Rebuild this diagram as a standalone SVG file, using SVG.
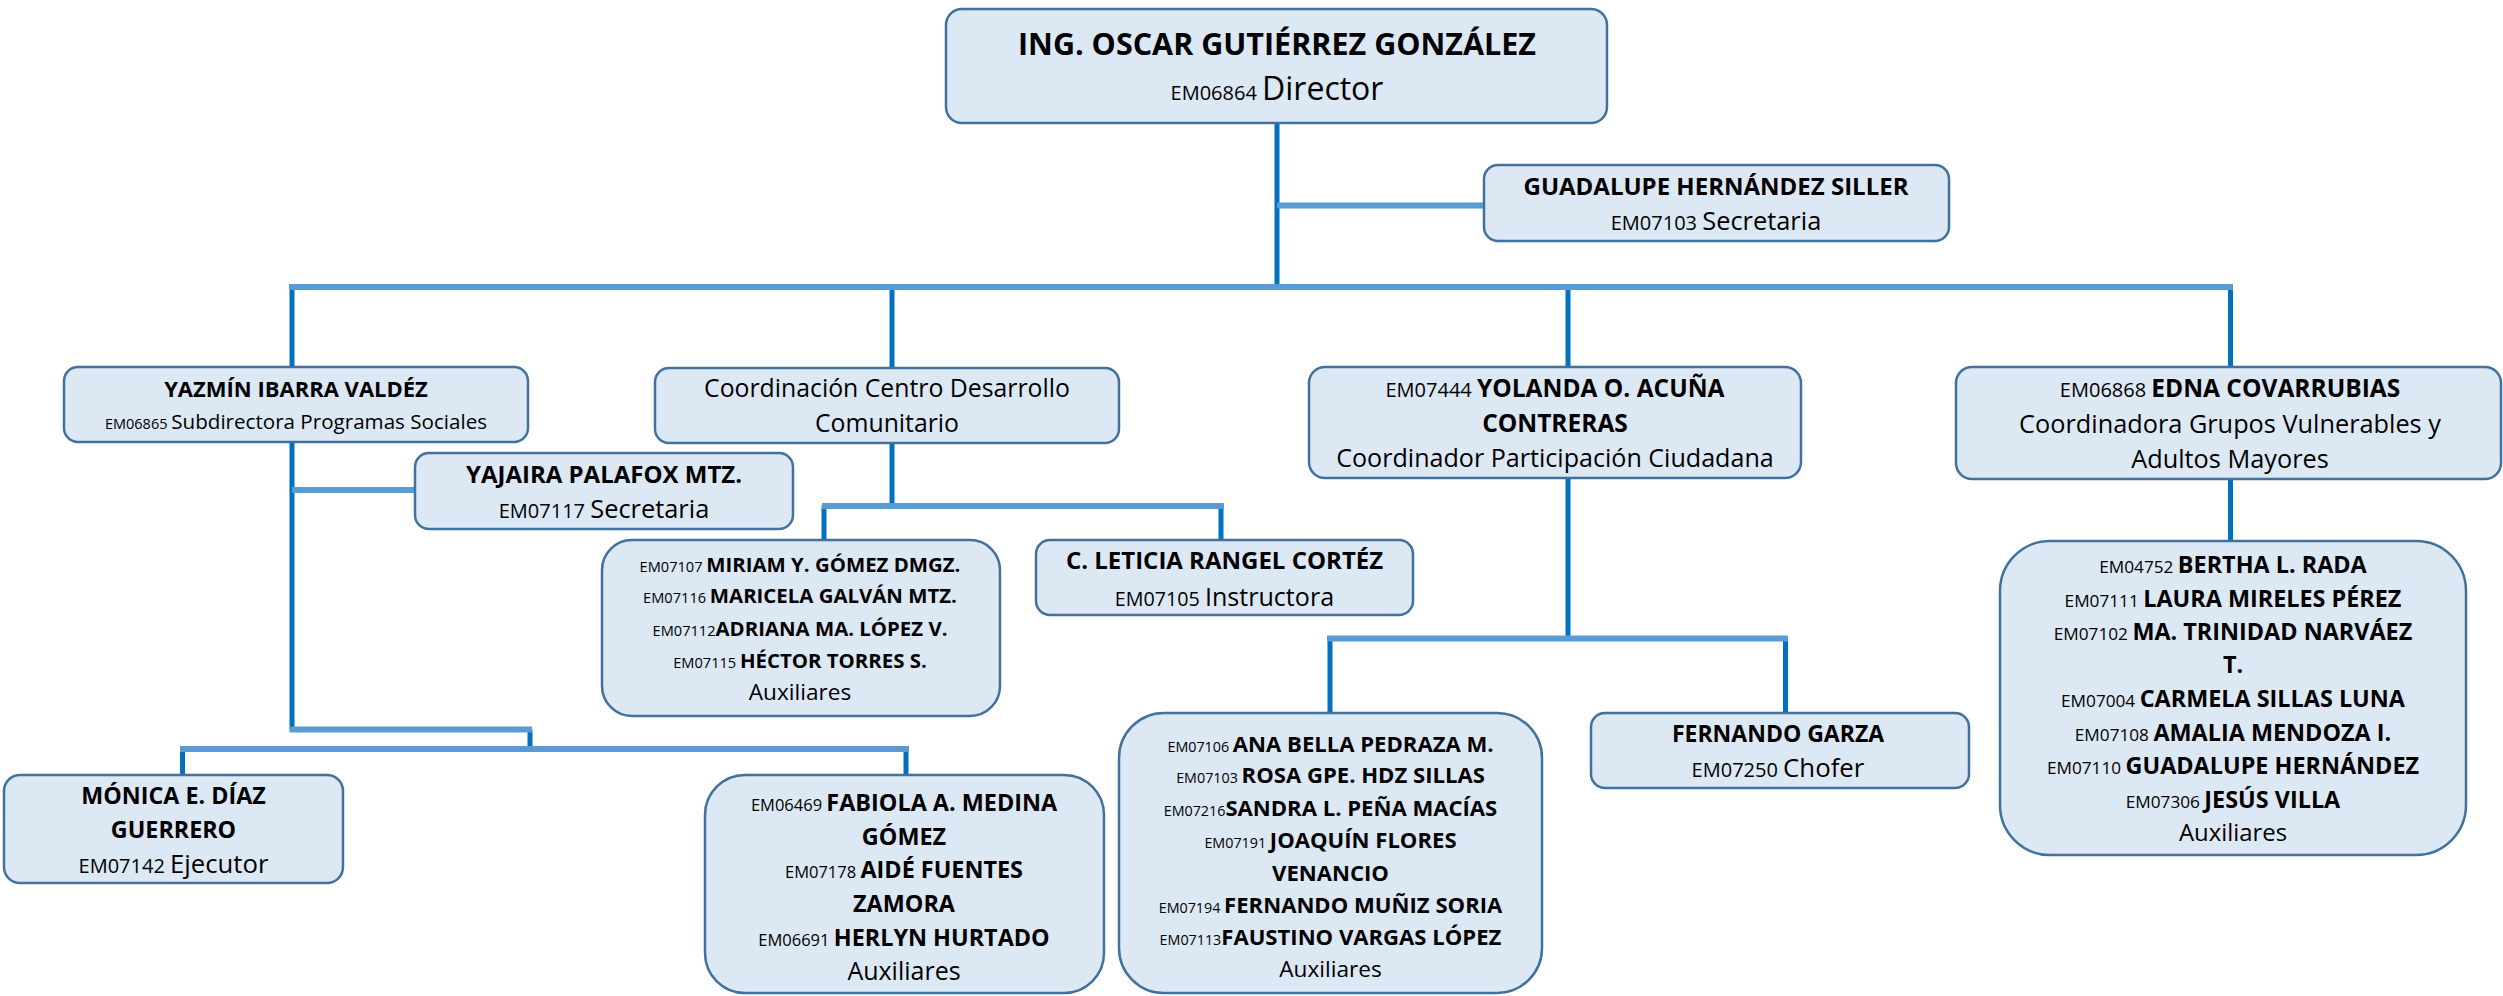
<svg xmlns="http://www.w3.org/2000/svg" width="2503" height="996" viewBox="0 0 2503 996">
<style>
.box{fill:#DDE8F5;stroke:#41719C;stroke-width:2.5}
.dk{stroke:#0070C0;stroke-width:5;fill:none}
.lt{stroke:#5B9BD5;stroke-width:6;fill:none}
text{font-family:"Open Sans","Liberation Sans",sans-serif;fill:#000;text-anchor:middle}
.b{font-weight:bold}
</style>
<rect width="2503" height="996" fill="#FFFFFF"/>
<g id="connectors">
<path class="dk" d="M1277,123V287M292,287V367M892,287V368M1568,287V367M2230.5,287V367"/>
<path class="dk" d="M292,442V729.5M530,729.5V749M182.5,749V775M906,749V775"/>
<path class="dk" d="M892,443V506M824,506V540M1221,506V540"/>
<path class="dk" d="M1568,478V638.5M1330,638.5V713M1785.5,638.5V713"/>
<path class="dk" d="M2230.5,479V541"/>
<path class="lt" d="M289,287H2233M1277,205.5H1484"/>
<path class="lt" d="M292,490H415M289.5,729.5H532M180,749H909"/>
<path class="lt" d="M822,506H1224"/>
<path class="lt" d="M1327,638.5H1788"/>
</g>
<g id="director">
<rect class="box" x="946" y="9" width="661" height="114" rx="16"/>
<text x="1277" y="55" class="b" font-size="30.5">ING. OSCAR GUTIÉRREZ GONZÁLEZ</text>
<text x="1277" y="100"><tspan font-size="20">EM06864 </tspan><tspan font-size="32">Director</tspan></text>
</g>
<g id="secretaria-direccion">
<rect class="box" x="1484" y="165" width="465" height="76" rx="14"/>
<text x="1716" y="195" class="b" font-size="24">GUADALUPE HERNÁNDEZ SILLER</text>
<text x="1716" y="230"><tspan font-size="20">EM07103 </tspan><tspan font-size="25.4">Secretaria</tspan></text>
</g>
<g id="subdirectora">
<rect class="box" x="64" y="367" width="464" height="75" rx="14"/>
<text x="296" y="396.7" class="b" font-size="22">YAZMÍN IBARRA VALDÉZ</text>
<text x="296" y="429.3"><tspan font-size="14.5">EM06865 </tspan><tspan font-size="20.6">Subdirectora Programas Sociales</tspan></text>
</g>
<g id="secretaria-sub">
<rect class="box" x="415" y="453" width="378" height="76" rx="14"/>
<text x="604" y="483.3" class="b" font-size="24">YAJAIRA PALAFOX MTZ.</text>
<text x="604" y="518.3"><tspan font-size="20">EM07117 </tspan><tspan font-size="25.4">Secretaria</tspan></text>
</g>
<g id="coordinacion-cdc">
<rect class="box" x="655" y="368" width="464" height="75" rx="14"/>
<text x="887" y="397.3" font-size="24.8">Coordinación Centro Desarrollo</text>
<text x="887" y="432.3" font-size="24.8">Comunitario</text>
</g>
<g id="auxiliares-cdc">
<rect class="box" x="602" y="540" width="398" height="176" rx="30"/>
<text x="800" y="571.7"><tspan font-size="14.6">EM07107 </tspan><tspan class="b" font-size="20.4">MIRIAM Y. GÓMEZ DMGZ.</tspan></text>
<text x="800" y="603.3"><tspan font-size="14.6">EM07116 </tspan><tspan class="b" font-size="20.4">MARICELA GALVÁN MTZ.</tspan></text>
<text x="800" y="635.7"><tspan font-size="14.6">EM07112</tspan><tspan class="b" font-size="20.4">ADRIANA MA. LÓPEZ V.</tspan></text>
<text x="800" y="667.7"><tspan font-size="14.6">EM07115 </tspan><tspan class="b" font-size="20.4">HÉCTOR TORRES S.</tspan></text>
<text x="800" y="700" font-size="22.6">Auxiliares</text>
</g>
<g id="instructora">
<rect class="box" x="1036" y="540" width="377" height="75" rx="14"/>
<text x="1224.5" y="569.3" class="b" font-size="24">C. LETICIA RANGEL CORTÉZ</text>
<text x="1224.5" y="605.7"><tspan font-size="19.7">EM07105 </tspan><tspan font-size="25.1">Instructora</tspan></text>
</g>
<g id="coordinador-participacion">
<rect class="box" x="1309" y="367" width="492" height="111" rx="16"/>
<text x="1555" y="397.3"><tspan font-size="20">EM07444 </tspan><tspan class="b" font-size="24.5">YOLANDA O. ACUÑA</tspan></text>
<text x="1555" y="431.7" class="b" font-size="24.5">CONTRERAS</text>
<text x="1555" y="467.3" font-size="25.1">Coordinador Participación Ciudadana</text>
</g>
<g id="auxiliares-participacion">
<rect class="box" x="1119" y="713" width="423" height="280" rx="45"/>
<text x="1330.5" y="751.7"><tspan font-size="14.3">EM07106 </tspan><tspan class="b" font-size="22.1">ANA BELLA PEDRAZA M.</tspan></text>
<text x="1330.5" y="783.3"><tspan font-size="14.3">EM07103 </tspan><tspan class="b" font-size="22.1">ROSA GPE. HDZ SILLAS</tspan></text>
<text x="1330.5" y="815.7"><tspan font-size="14.3">EM07216</tspan><tspan class="b" font-size="22.1">SANDRA L. PEÑA MACÍAS</tspan></text>
<text x="1330.5" y="848.3"><tspan font-size="14.3">EM07191 </tspan><tspan class="b" font-size="22.1">JOAQUÍN FLORES</tspan></text>
<text x="1330.5" y="880.7" class="b" font-size="22.1">VENANCIO</text>
<text x="1330.5" y="913.3"><tspan font-size="14.3">EM07194 </tspan><tspan class="b" font-size="22.1">FERNANDO MUÑIZ SORIA</tspan></text>
<text x="1330.5" y="945"><tspan font-size="14.3">EM07113</tspan><tspan class="b" font-size="22.1">FAUSTINO VARGAS LÓPEZ</tspan></text>
<text x="1330.5" y="976.7" font-size="22.6">Auxiliares</text>
</g>
<g id="chofer">
<rect class="box" x="1591" y="713" width="378" height="75" rx="14"/>
<text x="1778" y="742.3" class="b" font-size="23">FERNANDO GARZA</text>
<text x="1778" y="777.3"><tspan font-size="20">EM07250 </tspan><tspan font-size="25.8">Chofer</tspan></text>
</g>
<g id="coordinadora-grupos">
<rect class="box" x="1956" y="367" width="545" height="112" rx="16"/>
<text x="2230" y="397.3"><tspan font-size="20">EM06868 </tspan><tspan class="b" font-size="24.5">EDNA COVARRUBIAS</tspan></text>
<text x="2230" y="432.7" font-size="25.3">Coordinadora Grupos Vulnerables y</text>
<text x="2230" y="468.3" font-size="25.3">Adultos Mayores</text>
</g>
<g id="auxiliares-grupos">
<rect class="box" x="2000" y="541" width="466" height="314" rx="50"/>
<text x="2233" y="573.3"><tspan font-size="17.2">EM04752 </tspan><tspan class="b" font-size="23.4">BERTHA L. RADA</tspan></text>
<text x="2233" y="606.7"><tspan font-size="17.2">EM07111 </tspan><tspan class="b" font-size="23.4">LAURA MIRELES PÉREZ</tspan></text>
<text x="2233" y="640"><tspan font-size="17.2">EM07102 </tspan><tspan class="b" font-size="23.4">MA. TRINIDAD NARVÁEZ</tspan></text>
<text x="2233" y="673.3" class="b" font-size="23.4">T.</text>
<text x="2233" y="707.3"><tspan font-size="17.2">EM07004 </tspan><tspan class="b" font-size="23.4">CARMELA SILLAS LUNA</tspan></text>
<text x="2233" y="741"><tspan font-size="17.2">EM07108 </tspan><tspan class="b" font-size="23.4">AMALIA MENDOZA I.</tspan></text>
<text x="2233" y="774.3"><tspan font-size="17.2">EM07110 </tspan><tspan class="b" font-size="23.4">GUADALUPE HERNÁNDEZ</tspan></text>
<text x="2233" y="807.7"><tspan font-size="17.2">EM07306 </tspan><tspan class="b" font-size="23.4">JESÚS VILLA</tspan></text>
<text x="2233" y="841" font-size="23.9">Auxiliares</text>
</g>
<g id="ejecutor">
<rect class="box" x="4" y="775" width="339" height="108" rx="16"/>
<text x="173.5" y="804.3" class="b" font-size="23.3">MÓNICA E. DÍAZ</text>
<text x="173.5" y="837.7" class="b" font-size="23.3">GUERRERO</text>
<text x="173.5" y="872.7"><tspan font-size="20">EM07142 </tspan><tspan font-size="25.7">Ejecutor</tspan></text>
</g>
<g id="auxiliares-sub">
<rect class="box" x="705" y="775" width="399" height="218" rx="40"/>
<text x="904" y="811"><tspan font-size="16.5">EM06469 </tspan><tspan class="b" font-size="23.4">FABIOLA A. MEDINA</tspan></text>
<text x="904" y="845" class="b" font-size="23.4">GÓMEZ</text>
<text x="904" y="878.3"><tspan font-size="16.5">EM07178 </tspan><tspan class="b" font-size="23.4">AIDÉ FUENTES</tspan></text>
<text x="904" y="912.3" class="b" font-size="23.4">ZAMORA</text>
<text x="904" y="946"><tspan font-size="16.5">EM06691 </tspan><tspan class="b" font-size="23.4">HERLYN HURTADO</tspan></text>
<text x="904" y="980" font-size="25">Auxiliares</text>
</g>
</svg>
